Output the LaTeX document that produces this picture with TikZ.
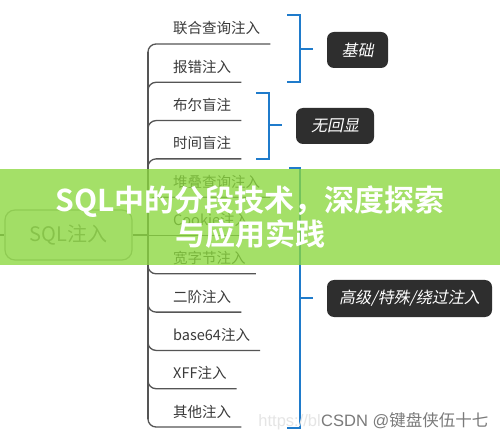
\documentclass[tikz,border=0pt]{standalone}
\usepackage{fontspec}
\setmainfont{Noto Sans CJK SC}
\newfontfamily\cjkb{Noto Sans CJK SC Bold}
\newfontfamily\cjksl{Noto Sans CJK SC}[FakeSlant=0.2]
\newfontfamily\arialf{Liberation Sans}
\usetikzlibrary{calc}
\definecolor{trunkc}{HTML}{555555}
\definecolor{txtc}{HTML}{3A3A3A}
\definecolor{blueb}{HTML}{1F7BCB}
\definecolor{darkb}{HTML}{2E2E2E}
\definecolor{ovlc}{RGB}{139,216,62}
\definecolor{wmc}{HTML}{7A7A7A}
\tikzset{
  lbl/.style={inner sep=0pt, text=txtc, font=\fontsize{14.5}{17}\selectfont},
  branch/.style={draw=trunkc, line width=1.3pt, rounded corners=8pt},
  brk/.style={draw=blueb, line width=2.3pt},
  tagbox/.style={fill=darkb, rounded corners=7pt, text=white, inner sep=0pt,
    font=\cjksl\fontsize{16}{19}\selectfont},
  rootbox/.style={draw=gray!75, line width=1.2pt, fill=gray!6, rounded corners=10pt,
    minimum width=127pt, minimum height=50pt, text=gray!95!black,
    font=\fontsize{20}{24}\selectfont},
  ovl/.style={fill=ovlc, fill opacity=0.78},
  ttl/.style={text=white, align=center, font=\cjkb\fontsize{30}{34}\selectfont}
}
\begin{document}
\begin{tikzpicture}[x=1pt,y=-1pt]
\useasboundingbox (0,0) rectangle (500,435);
\fill[white] (0,0) rectangle (500,435);
% branch labels
\foreach \t [count=\i] in {联合查询注入,报错注入,布尔盲注,时间盲注,堆叠查询注入,Cookie注入,宽字节注入,二阶注入,base64注入,XFF注入,其他注入}{
  \pgfmathsetmacro\yy{44+38.3*(\i-1)}
  \coordinate (u\i) at (148,\yy);
  \node[lbl, anchor=base west] (n\i) at (173,\yy-10) {\t};
}
% trunk
\draw[branch] ($(u1)+(0,8)$) -- ($(u11)+(0,-8)$);
\foreach \i in {1,...,5}{
  \draw[branch] ($(u\i)+(0,8)$) |- ($(n\i.east |- u\i)+(10,0)$);
}
\draw[branch] (u6) -- ($(n6.east |- u6)+(10,0)$);
\foreach \i in {7,...,11}{
  \draw[branch] ($(u\i)+(0,-8)$) |- ($(n\i.east |- u\i)+(10,0)$);
}
% root
\node[rootbox] (root) at (68.5,235) {SQL注入};
\coordinate (lft) at (0,235);
\coordinate (rt) at (148,235);
\draw[branch] (lft) -- (root.west);
\draw[branch] (root.east) -- (rt);
% brackets
\draw[brk] (287,15) -- (300,15) -- (300,82) -- (287,82);
\draw[brk] (300,49) -- (313,49);
\node[tagbox, minimum width=61pt, minimum height=36pt] (b1) at (357.5,50) {基础};
\draw[brk] (256,93) -- (269,93) -- (269,159) -- (256,159);
\draw[brk] (269,125) -- (282,125);
\node[tagbox, minimum width=78pt, minimum height=36pt] (b2) at (335,126) {无回显};
\draw[brk] (289,168) -- (300,168) -- (300,428) -- (287,428);
\draw[brk] (300,298) -- (313,298);
\node[tagbox, minimum width=165pt, minimum height=37pt] (b3) at (409.5,298.5) {高级/特殊/绕过注入};
% overlay
\fill[ovl] (0,169) rectangle (500,265);
\node[ttl] (title) at (250,217) {SQL中的分段技术，深度探索\\与应用实践};
% watermark
\node[anchor=base west, inner sep=0pt, text=wmc, font=\fontsize{16.5}{20}\selectfont] (wm) at (321,426) {{\arialf CSDN @}键盘侠伍十七};
\node[anchor=base east, inner sep=0pt, text=gray!20, font=\arialf\fontsize{16.5}{20}\selectfont] (wm0) at (wm.base west) {https://bl};
\end{tikzpicture}
\end{document}
